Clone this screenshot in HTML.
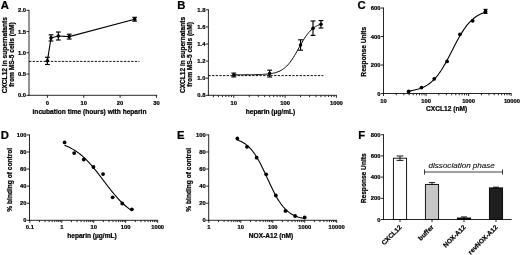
<!DOCTYPE html>
<html><head><meta charset="utf-8"><title>Figure</title>
<style>
html,body{margin:0;padding:0;background:#fff;}
body{width:520px;height:255px;overflow:hidden;}
svg{display:block;font-family:"Liberation Sans",sans-serif;fill:#000;}
text{stroke:#000;stroke-width:0.22px;}
text.ns{stroke:none;}
text.ns2{stroke:#111;stroke-width:0.12px;}
</style></head><body>
<svg width="520" height="255" viewBox="0 0 520 255">
<rect x="0" y="0" width="520" height="255" fill="#fff"/>
<text x="4.90" y="9.00" text-anchor="middle" font-size="11.3" font-weight="bold" font-style="normal">A</text>
<line x1="29.00" y1="95.72" x2="29.00" y2="9.87" stroke="#000" stroke-width="0.85"/>
<line x1="26.50" y1="95.30" x2="29.00" y2="95.30" stroke="#000" stroke-width="0.85"/>
<text x="26.00" y="97.45" text-anchor="end" font-size="5.8" font-weight="bold" font-style="normal">0.0</text>
<line x1="26.50" y1="74.05" x2="29.00" y2="74.05" stroke="#000" stroke-width="0.85"/>
<text x="26.00" y="76.20" text-anchor="end" font-size="5.8" font-weight="bold" font-style="normal">0.5</text>
<line x1="26.50" y1="52.80" x2="29.00" y2="52.80" stroke="#000" stroke-width="0.85"/>
<text x="26.00" y="54.95" text-anchor="end" font-size="5.8" font-weight="bold" font-style="normal">1.0</text>
<line x1="26.50" y1="31.55" x2="29.00" y2="31.55" stroke="#000" stroke-width="0.85"/>
<text x="26.00" y="33.70" text-anchor="end" font-size="5.8" font-weight="bold" font-style="normal">1.5</text>
<line x1="26.50" y1="10.30" x2="29.00" y2="10.30" stroke="#000" stroke-width="0.85"/>
<text x="26.00" y="12.45" text-anchor="end" font-size="5.8" font-weight="bold" font-style="normal">2.0</text>
<line x1="28.57" y1="95.30" x2="157.30" y2="95.30" stroke="#000" stroke-width="0.85"/>
<line x1="47.40" y1="95.30" x2="47.40" y2="97.80" stroke="#000" stroke-width="0.85"/>
<text x="47.40" y="104.80" text-anchor="middle" font-size="5.8" font-weight="bold" font-style="normal">0</text>
<line x1="83.75" y1="95.30" x2="83.75" y2="97.80" stroke="#000" stroke-width="0.85"/>
<text x="83.75" y="104.80" text-anchor="middle" font-size="5.8" font-weight="bold" font-style="normal">10</text>
<line x1="120.10" y1="95.30" x2="120.10" y2="97.80" stroke="#000" stroke-width="0.85"/>
<text x="120.10" y="104.80" text-anchor="middle" font-size="5.8" font-weight="bold" font-style="normal">20</text>
<line x1="156.45" y1="95.30" x2="156.45" y2="97.80" stroke="#000" stroke-width="0.85"/>
<text x="156.45" y="104.80" text-anchor="middle" font-size="5.8" font-weight="bold" font-style="normal">30</text>
<text x="89.50" y="114.30" text-anchor="middle" font-size="6.6" font-weight="bold" font-style="normal">incubation time (hours) with heparin</text>
<text x="7.50" y="55.20" text-anchor="middle" font-size="6.6" font-weight="bold" font-style="normal" transform="rotate(-90 7.50 55.20)">CXCL12 in supernatants</text>
<text x="14.30" y="54.60" text-anchor="middle" font-size="6.6" font-weight="bold" font-style="normal" transform="rotate(-90 14.30 54.60)">from MS-5 cells (nM)</text>
<line x1="29.00" y1="61.40" x2="139.40" y2="61.40" stroke="#000" stroke-width="0.95" stroke-dasharray="2.3 1.35"/>
<path d="M47.40,60.87 L51.03,37.92 L58.30,36.01 L69.21,36.61 L134.64,19.22" fill="none" stroke="#000" stroke-width="1.1" stroke-linejoin="round"/>
<line x1="47.40" y1="57.26" x2="47.40" y2="64.49" stroke="#000" stroke-width="1.15"/>
<line x1="45.00" y1="57.26" x2="49.80" y2="57.26" stroke="#000" stroke-width="1.15"/>
<line x1="45.00" y1="64.49" x2="49.80" y2="64.49" stroke="#000" stroke-width="1.15"/>
<circle cx="47.40" cy="60.87" r="1.8" fill="#000"/>
<line x1="51.03" y1="34.82" x2="51.03" y2="41.03" stroke="#000" stroke-width="1.15"/>
<line x1="48.63" y1="34.82" x2="53.43" y2="34.82" stroke="#000" stroke-width="1.15"/>
<line x1="48.63" y1="41.03" x2="53.43" y2="41.03" stroke="#000" stroke-width="1.15"/>
<circle cx="51.03" cy="37.92" r="1.8" fill="#000"/>
<line x1="58.30" y1="32.02" x2="58.30" y2="40.01" stroke="#000" stroke-width="1.15"/>
<line x1="55.91" y1="32.02" x2="60.70" y2="32.02" stroke="#000" stroke-width="1.15"/>
<line x1="55.91" y1="40.01" x2="60.70" y2="40.01" stroke="#000" stroke-width="1.15"/>
<circle cx="58.30" cy="36.01" r="1.8" fill="#000"/>
<line x1="69.21" y1="34.19" x2="69.21" y2="39.03" stroke="#000" stroke-width="1.15"/>
<line x1="66.81" y1="34.19" x2="71.61" y2="34.19" stroke="#000" stroke-width="1.15"/>
<line x1="66.81" y1="39.03" x2="71.61" y2="39.03" stroke="#000" stroke-width="1.15"/>
<circle cx="69.21" cy="36.61" r="1.8" fill="#000"/>
<line x1="134.64" y1="17.31" x2="134.64" y2="21.14" stroke="#000" stroke-width="1.15"/>
<line x1="132.24" y1="17.31" x2="137.04" y2="17.31" stroke="#000" stroke-width="1.15"/>
<line x1="132.24" y1="21.14" x2="137.04" y2="21.14" stroke="#000" stroke-width="1.15"/>
<circle cx="134.64" cy="19.22" r="1.8" fill="#000"/>
<text x="181.30" y="8.90" text-anchor="middle" font-size="11.3" font-weight="bold" font-style="normal">B</text>
<line x1="208.40" y1="95.72" x2="208.40" y2="9.37" stroke="#000" stroke-width="0.85"/>
<line x1="205.90" y1="95.30" x2="208.40" y2="95.30" stroke="#000" stroke-width="0.85"/>
<text x="205.40" y="97.45" text-anchor="end" font-size="5.8" font-weight="bold" font-style="normal">0.8</text>
<line x1="205.90" y1="78.20" x2="208.40" y2="78.20" stroke="#000" stroke-width="0.85"/>
<text x="205.40" y="80.35" text-anchor="end" font-size="5.8" font-weight="bold" font-style="normal">1.0</text>
<line x1="205.90" y1="61.10" x2="208.40" y2="61.10" stroke="#000" stroke-width="0.85"/>
<text x="205.40" y="63.25" text-anchor="end" font-size="5.8" font-weight="bold" font-style="normal">1.2</text>
<line x1="205.90" y1="44.00" x2="208.40" y2="44.00" stroke="#000" stroke-width="0.85"/>
<text x="205.40" y="46.15" text-anchor="end" font-size="5.8" font-weight="bold" font-style="normal">1.4</text>
<line x1="205.90" y1="26.90" x2="208.40" y2="26.90" stroke="#000" stroke-width="0.85"/>
<text x="205.40" y="29.05" text-anchor="end" font-size="5.8" font-weight="bold" font-style="normal">1.6</text>
<line x1="205.90" y1="9.80" x2="208.40" y2="9.80" stroke="#000" stroke-width="0.85"/>
<text x="205.40" y="11.95" text-anchor="end" font-size="5.8" font-weight="bold" font-style="normal">1.8</text>
<line x1="207.97" y1="95.30" x2="336.90" y2="95.30" stroke="#000" stroke-width="0.85"/>
<line x1="233.80" y1="95.30" x2="233.80" y2="97.80" stroke="#000" stroke-width="0.85"/>
<text x="233.80" y="104.60" text-anchor="middle" font-size="5.8" font-weight="bold" font-style="normal">10</text>
<line x1="285.10" y1="95.30" x2="285.10" y2="97.80" stroke="#000" stroke-width="0.85"/>
<text x="285.10" y="104.60" text-anchor="middle" font-size="5.8" font-weight="bold" font-style="normal">100</text>
<line x1="336.40" y1="95.30" x2="336.40" y2="97.80" stroke="#000" stroke-width="0.85"/>
<text x="336.40" y="104.60" text-anchor="middle" font-size="5.8" font-weight="bold" font-style="normal">1000</text>
<line x1="213.39" y1="95.30" x2="213.39" y2="97.10" stroke="#000" stroke-width="0.85"/>
<line x1="218.36" y1="95.30" x2="218.36" y2="97.10" stroke="#000" stroke-width="0.85"/>
<line x1="222.42" y1="95.30" x2="222.42" y2="97.10" stroke="#000" stroke-width="0.85"/>
<line x1="225.85" y1="95.30" x2="225.85" y2="97.10" stroke="#000" stroke-width="0.85"/>
<line x1="228.83" y1="95.30" x2="228.83" y2="97.10" stroke="#000" stroke-width="0.85"/>
<line x1="231.45" y1="95.30" x2="231.45" y2="97.10" stroke="#000" stroke-width="0.85"/>
<line x1="249.24" y1="95.30" x2="249.24" y2="97.10" stroke="#000" stroke-width="0.85"/>
<line x1="258.28" y1="95.30" x2="258.28" y2="97.10" stroke="#000" stroke-width="0.85"/>
<line x1="264.69" y1="95.30" x2="264.69" y2="97.10" stroke="#000" stroke-width="0.85"/>
<line x1="269.66" y1="95.30" x2="269.66" y2="97.10" stroke="#000" stroke-width="0.85"/>
<line x1="273.72" y1="95.30" x2="273.72" y2="97.10" stroke="#000" stroke-width="0.85"/>
<line x1="277.15" y1="95.30" x2="277.15" y2="97.10" stroke="#000" stroke-width="0.85"/>
<line x1="280.13" y1="95.30" x2="280.13" y2="97.10" stroke="#000" stroke-width="0.85"/>
<line x1="282.75" y1="95.30" x2="282.75" y2="97.10" stroke="#000" stroke-width="0.85"/>
<line x1="300.54" y1="95.30" x2="300.54" y2="97.10" stroke="#000" stroke-width="0.85"/>
<line x1="309.58" y1="95.30" x2="309.58" y2="97.10" stroke="#000" stroke-width="0.85"/>
<line x1="315.99" y1="95.30" x2="315.99" y2="97.10" stroke="#000" stroke-width="0.85"/>
<line x1="320.96" y1="95.30" x2="320.96" y2="97.10" stroke="#000" stroke-width="0.85"/>
<line x1="325.02" y1="95.30" x2="325.02" y2="97.10" stroke="#000" stroke-width="0.85"/>
<line x1="328.45" y1="95.30" x2="328.45" y2="97.10" stroke="#000" stroke-width="0.85"/>
<line x1="331.43" y1="95.30" x2="331.43" y2="97.10" stroke="#000" stroke-width="0.85"/>
<line x1="334.05" y1="95.30" x2="334.05" y2="97.10" stroke="#000" stroke-width="0.85"/>
<text x="270.50" y="114.30" text-anchor="middle" font-size="6.6" font-weight="bold" font-style="normal">heparin (µg/mL)</text>
<text x="184.50" y="55.00" text-anchor="middle" font-size="6.6" font-weight="bold" font-style="normal" transform="rotate(-90 184.50 55.00)">CXCL12 in supernatants</text>
<text x="191.70" y="54.40" text-anchor="middle" font-size="6.6" font-weight="bold" font-style="normal" transform="rotate(-90 191.70 54.40)">from MS-5 cells (nM)</text>
<line x1="208.40" y1="75.60" x2="323.40" y2="75.60" stroke="#000" stroke-width="0.95" stroke-dasharray="2.3 1.35"/>
<path d="M233.80,74.81 L234.90,74.81 L236.01,74.81 L237.11,74.81 L238.21,74.80 L239.32,74.80 L240.42,74.80 L241.52,74.80 L242.63,74.79 L243.73,74.79 L244.83,74.78 L245.94,74.78 L247.04,74.77 L248.14,74.76 L249.25,74.75 L250.35,74.74 L251.45,74.73 L252.56,74.72 L253.66,74.70 L254.76,74.68 L255.87,74.66 L256.97,74.63 L258.07,74.61 L259.17,74.57 L260.28,74.53 L261.38,74.49 L262.48,74.43 L263.59,74.37 L264.69,74.30 L265.79,74.22 L266.90,74.12 L268.00,74.01 L269.10,73.88 L270.21,73.73 L271.31,73.56 L272.41,73.36 L273.52,73.13 L274.62,72.87 L275.72,72.57 L276.83,72.23 L277.93,71.83 L279.03,71.38 L280.14,70.86 L281.24,70.28 L282.34,69.62 L283.45,68.87 L284.55,68.03 L285.65,67.09 L286.76,66.05 L287.86,64.90 L288.96,63.63 L290.07,62.25 L291.17,60.75 L292.27,59.15 L293.38,57.45 L294.48,55.65 L295.58,53.78 L296.69,51.85 L297.79,49.88 L298.89,47.89 L300.00,45.91 L301.10,43.95 L302.20,42.04 L303.31,40.20 L304.41,38.44 L305.51,36.77 L306.61,35.21 L307.72,33.76 L308.82,32.42 L309.92,31.20 L311.03,30.09 L312.13,29.09 L313.23,28.19 L314.34,27.38 L315.44,26.67 L316.54,26.04 L317.65,25.48 L318.75,24.99 L319.85,24.56 L320.96,24.19" fill="none" stroke="#000" stroke-width="1.0" stroke-linejoin="round"/>
<line x1="233.80" y1="73.10" x2="233.80" y2="76.90" stroke="#000" stroke-width="1.15"/>
<line x1="231.40" y1="73.10" x2="236.20" y2="73.10" stroke="#000" stroke-width="1.15"/>
<line x1="231.40" y1="76.90" x2="236.20" y2="76.90" stroke="#000" stroke-width="1.15"/>
<circle cx="233.80" cy="75.00" r="1.8" fill="#000"/>
<line x1="269.66" y1="70.20" x2="269.66" y2="77.00" stroke="#000" stroke-width="1.15"/>
<line x1="267.26" y1="70.20" x2="272.06" y2="70.20" stroke="#000" stroke-width="1.15"/>
<line x1="267.26" y1="77.00" x2="272.06" y2="77.00" stroke="#000" stroke-width="1.15"/>
<circle cx="269.66" cy="73.60" r="1.8" fill="#000"/>
<line x1="300.54" y1="39.80" x2="300.54" y2="50.20" stroke="#000" stroke-width="1.15"/>
<line x1="298.14" y1="39.80" x2="302.94" y2="39.80" stroke="#000" stroke-width="1.15"/>
<line x1="298.14" y1="50.20" x2="302.94" y2="50.20" stroke="#000" stroke-width="1.15"/>
<circle cx="300.54" cy="45.00" r="1.8" fill="#000"/>
<line x1="313.01" y1="21.00" x2="313.01" y2="35.40" stroke="#000" stroke-width="1.15"/>
<line x1="310.61" y1="21.00" x2="315.41" y2="21.00" stroke="#000" stroke-width="1.15"/>
<line x1="310.61" y1="35.40" x2="315.41" y2="35.40" stroke="#000" stroke-width="1.15"/>
<circle cx="313.01" cy="28.20" r="1.8" fill="#000"/>
<line x1="320.96" y1="20.60" x2="320.96" y2="28.00" stroke="#000" stroke-width="1.15"/>
<line x1="318.56" y1="20.60" x2="323.36" y2="20.60" stroke="#000" stroke-width="1.15"/>
<line x1="318.56" y1="28.00" x2="323.36" y2="28.00" stroke="#000" stroke-width="1.15"/>
<circle cx="320.96" cy="24.30" r="1.8" fill="#000"/>
<text x="361.50" y="9.00" text-anchor="middle" font-size="11.3" font-weight="bold" font-style="normal">C</text>
<line x1="383.50" y1="93.92" x2="383.50" y2="7.58" stroke="#000" stroke-width="0.85"/>
<line x1="381.00" y1="93.50" x2="383.50" y2="93.50" stroke="#000" stroke-width="0.85"/>
<text x="380.50" y="95.65" text-anchor="end" font-size="5.8" font-weight="bold" font-style="normal">0</text>
<line x1="381.00" y1="65.00" x2="383.50" y2="65.00" stroke="#000" stroke-width="0.85"/>
<text x="380.50" y="67.15" text-anchor="end" font-size="5.8" font-weight="bold" font-style="normal">200</text>
<line x1="381.00" y1="36.50" x2="383.50" y2="36.50" stroke="#000" stroke-width="0.85"/>
<text x="380.50" y="38.65" text-anchor="end" font-size="5.8" font-weight="bold" font-style="normal">400</text>
<line x1="381.00" y1="8.00" x2="383.50" y2="8.00" stroke="#000" stroke-width="0.85"/>
<text x="380.50" y="10.15" text-anchor="end" font-size="5.8" font-weight="bold" font-style="normal">600</text>
<line x1="383.07" y1="93.50" x2="511.50" y2="93.50" stroke="#000" stroke-width="0.85"/>
<line x1="383.50" y1="93.50" x2="383.50" y2="96.00" stroke="#000" stroke-width="0.85"/>
<text x="383.50" y="102.70" text-anchor="middle" font-size="5.8" font-weight="bold" font-style="normal">10</text>
<line x1="426.05" y1="93.50" x2="426.05" y2="96.00" stroke="#000" stroke-width="0.85"/>
<text x="426.05" y="102.70" text-anchor="middle" font-size="5.8" font-weight="bold" font-style="normal">100</text>
<line x1="468.60" y1="93.50" x2="468.60" y2="96.00" stroke="#000" stroke-width="0.85"/>
<text x="468.60" y="102.70" text-anchor="middle" font-size="5.8" font-weight="bold" font-style="normal">1000</text>
<line x1="511.15" y1="93.50" x2="511.15" y2="96.00" stroke="#000" stroke-width="0.85"/>
<text x="511.95" y="102.70" text-anchor="middle" font-size="5.8" font-weight="bold" font-style="normal">10000</text>
<line x1="396.31" y1="93.50" x2="396.31" y2="95.30" stroke="#000" stroke-width="0.85"/>
<line x1="403.80" y1="93.50" x2="403.80" y2="95.30" stroke="#000" stroke-width="0.85"/>
<line x1="409.12" y1="93.50" x2="409.12" y2="95.30" stroke="#000" stroke-width="0.85"/>
<line x1="413.24" y1="93.50" x2="413.24" y2="95.30" stroke="#000" stroke-width="0.85"/>
<line x1="416.61" y1="93.50" x2="416.61" y2="95.30" stroke="#000" stroke-width="0.85"/>
<line x1="419.46" y1="93.50" x2="419.46" y2="95.30" stroke="#000" stroke-width="0.85"/>
<line x1="421.93" y1="93.50" x2="421.93" y2="95.30" stroke="#000" stroke-width="0.85"/>
<line x1="424.10" y1="93.50" x2="424.10" y2="95.30" stroke="#000" stroke-width="0.85"/>
<line x1="438.86" y1="93.50" x2="438.86" y2="95.30" stroke="#000" stroke-width="0.85"/>
<line x1="446.35" y1="93.50" x2="446.35" y2="95.30" stroke="#000" stroke-width="0.85"/>
<line x1="451.67" y1="93.50" x2="451.67" y2="95.30" stroke="#000" stroke-width="0.85"/>
<line x1="455.79" y1="93.50" x2="455.79" y2="95.30" stroke="#000" stroke-width="0.85"/>
<line x1="459.16" y1="93.50" x2="459.16" y2="95.30" stroke="#000" stroke-width="0.85"/>
<line x1="462.01" y1="93.50" x2="462.01" y2="95.30" stroke="#000" stroke-width="0.85"/>
<line x1="464.48" y1="93.50" x2="464.48" y2="95.30" stroke="#000" stroke-width="0.85"/>
<line x1="466.65" y1="93.50" x2="466.65" y2="95.30" stroke="#000" stroke-width="0.85"/>
<line x1="481.41" y1="93.50" x2="481.41" y2="95.30" stroke="#000" stroke-width="0.85"/>
<line x1="488.90" y1="93.50" x2="488.90" y2="95.30" stroke="#000" stroke-width="0.85"/>
<line x1="494.22" y1="93.50" x2="494.22" y2="95.30" stroke="#000" stroke-width="0.85"/>
<line x1="498.34" y1="93.50" x2="498.34" y2="95.30" stroke="#000" stroke-width="0.85"/>
<line x1="501.71" y1="93.50" x2="501.71" y2="95.30" stroke="#000" stroke-width="0.85"/>
<line x1="504.56" y1="93.50" x2="504.56" y2="95.30" stroke="#000" stroke-width="0.85"/>
<line x1="507.03" y1="93.50" x2="507.03" y2="95.30" stroke="#000" stroke-width="0.85"/>
<line x1="509.20" y1="93.50" x2="509.20" y2="95.30" stroke="#000" stroke-width="0.85"/>
<text x="446.60" y="111.20" text-anchor="middle" font-size="6.6" font-weight="bold" font-style="normal">CXCL12 (nM)</text>
<text x="365.90" y="51.70" text-anchor="middle" font-size="6.6" font-weight="bold" font-style="normal" transform="rotate(-90 365.90 51.70)">Response Units</text>
<path d="M408.65,91.03 L409.62,90.90 L410.60,90.76 L411.57,90.61 L412.54,90.44 L413.52,90.25 L414.49,90.05 L415.46,89.83 L416.44,89.59 L417.41,89.33 L418.38,89.04 L419.35,88.73 L420.33,88.40 L421.30,88.03 L422.27,87.64 L423.25,87.21 L424.22,86.74 L425.19,86.24 L426.17,85.69 L427.14,85.11 L428.11,84.47 L429.09,83.79 L430.06,83.06 L431.03,82.27 L432.01,81.42 L432.98,80.52 L433.95,79.56 L434.93,78.53 L435.90,77.44 L436.87,76.28 L437.85,75.05 L438.82,73.76 L439.79,72.40 L440.77,70.98 L441.74,69.49 L442.71,67.93 L443.68,66.32 L444.66,64.65 L445.63,62.93 L446.60,61.16 L447.58,59.34 L448.55,57.50 L449.52,55.62 L450.50,53.73 L451.47,51.82 L452.44,49.91 L453.42,47.99 L454.39,46.09 L455.36,44.21 L456.34,42.35 L457.31,40.53 L458.28,38.74 L459.26,37.00 L460.23,35.32 L461.20,33.68 L462.18,32.11 L463.15,30.59 L464.12,29.14 L465.10,27.76 L466.07,26.45 L467.04,25.20 L468.01,24.02 L468.99,22.90 L469.96,21.85 L470.93,20.86 L471.91,19.94 L472.88,19.08 L473.85,18.27 L474.83,17.52 L475.80,16.81 L476.77,16.16 L477.75,15.56 L478.72,15.00 L479.69,14.48 L480.67,14.00 L481.64,13.56 L482.61,13.16 L483.59,12.78 L484.56,12.43 L485.53,12.11" fill="none" stroke="#000" stroke-width="1.1" stroke-linejoin="round"/>
<circle cx="408.65" cy="91.40" r="1.9" fill="#000"/>
<circle cx="421.46" cy="87.60" r="1.9" fill="#000"/>
<circle cx="434.27" cy="78.80" r="1.9" fill="#000"/>
<circle cx="447.08" cy="61.40" r="1.9" fill="#000"/>
<circle cx="459.91" cy="34.30" r="1.9" fill="#000"/>
<circle cx="472.72" cy="20.80" r="1.9" fill="#000"/>
<circle cx="485.53" cy="11.40" r="1.9" fill="#000"/>
<line x1="485.53" y1="9.40" x2="485.53" y2="13.40" stroke="#000" stroke-width="1.15"/>
<line x1="483.53" y1="9.40" x2="487.53" y2="9.40" stroke="#000" stroke-width="1.15"/>
<line x1="483.53" y1="13.40" x2="487.53" y2="13.40" stroke="#000" stroke-width="1.15"/>
<text x="4.80" y="138.80" text-anchor="middle" font-size="11.3" font-weight="bold" font-style="normal">D</text>
<line x1="29.50" y1="220.73" x2="29.50" y2="134.48" stroke="#000" stroke-width="0.85"/>
<line x1="27.00" y1="220.30" x2="29.50" y2="220.30" stroke="#000" stroke-width="0.85"/>
<text x="26.50" y="222.45" text-anchor="end" font-size="5.8" font-weight="bold" font-style="normal">0</text>
<line x1="27.00" y1="203.22" x2="29.50" y2="203.22" stroke="#000" stroke-width="0.85"/>
<text x="26.50" y="205.37" text-anchor="end" font-size="5.8" font-weight="bold" font-style="normal">20</text>
<line x1="27.00" y1="186.14" x2="29.50" y2="186.14" stroke="#000" stroke-width="0.85"/>
<text x="26.50" y="188.29" text-anchor="end" font-size="5.8" font-weight="bold" font-style="normal">40</text>
<line x1="27.00" y1="169.06" x2="29.50" y2="169.06" stroke="#000" stroke-width="0.85"/>
<text x="26.50" y="171.21" text-anchor="end" font-size="5.8" font-weight="bold" font-style="normal">60</text>
<line x1="27.00" y1="151.98" x2="29.50" y2="151.98" stroke="#000" stroke-width="0.85"/>
<text x="26.50" y="154.13" text-anchor="end" font-size="5.8" font-weight="bold" font-style="normal">80</text>
<line x1="27.00" y1="134.90" x2="29.50" y2="134.90" stroke="#000" stroke-width="0.85"/>
<text x="26.50" y="137.05" text-anchor="end" font-size="5.8" font-weight="bold" font-style="normal">100</text>
<line x1="29.07" y1="220.30" x2="158.00" y2="220.30" stroke="#000" stroke-width="0.85"/>
<line x1="29.85" y1="220.30" x2="29.85" y2="222.80" stroke="#000" stroke-width="0.85"/>
<text x="29.85" y="229.00" text-anchor="middle" font-size="5.8" font-weight="bold" font-style="normal">0.1</text>
<line x1="61.80" y1="220.30" x2="61.80" y2="222.80" stroke="#000" stroke-width="0.85"/>
<text x="61.80" y="229.00" text-anchor="middle" font-size="5.8" font-weight="bold" font-style="normal">1</text>
<line x1="93.75" y1="220.30" x2="93.75" y2="222.80" stroke="#000" stroke-width="0.85"/>
<text x="93.75" y="229.00" text-anchor="middle" font-size="5.8" font-weight="bold" font-style="normal">10</text>
<line x1="125.70" y1="220.30" x2="125.70" y2="222.80" stroke="#000" stroke-width="0.85"/>
<text x="125.70" y="229.00" text-anchor="middle" font-size="5.8" font-weight="bold" font-style="normal">100</text>
<line x1="157.65" y1="220.30" x2="157.65" y2="222.80" stroke="#000" stroke-width="0.85"/>
<text x="157.65" y="229.00" text-anchor="middle" font-size="5.8" font-weight="bold" font-style="normal">1000</text>
<line x1="39.47" y1="220.30" x2="39.47" y2="222.10" stroke="#000" stroke-width="0.85"/>
<line x1="45.09" y1="220.30" x2="45.09" y2="222.10" stroke="#000" stroke-width="0.85"/>
<line x1="49.09" y1="220.30" x2="49.09" y2="222.10" stroke="#000" stroke-width="0.85"/>
<line x1="52.18" y1="220.30" x2="52.18" y2="222.10" stroke="#000" stroke-width="0.85"/>
<line x1="54.71" y1="220.30" x2="54.71" y2="222.10" stroke="#000" stroke-width="0.85"/>
<line x1="56.85" y1="220.30" x2="56.85" y2="222.10" stroke="#000" stroke-width="0.85"/>
<line x1="58.70" y1="220.30" x2="58.70" y2="222.10" stroke="#000" stroke-width="0.85"/>
<line x1="60.34" y1="220.30" x2="60.34" y2="222.10" stroke="#000" stroke-width="0.85"/>
<line x1="71.42" y1="220.30" x2="71.42" y2="222.10" stroke="#000" stroke-width="0.85"/>
<line x1="77.04" y1="220.30" x2="77.04" y2="222.10" stroke="#000" stroke-width="0.85"/>
<line x1="81.04" y1="220.30" x2="81.04" y2="222.10" stroke="#000" stroke-width="0.85"/>
<line x1="84.13" y1="220.30" x2="84.13" y2="222.10" stroke="#000" stroke-width="0.85"/>
<line x1="86.66" y1="220.30" x2="86.66" y2="222.10" stroke="#000" stroke-width="0.85"/>
<line x1="88.80" y1="220.30" x2="88.80" y2="222.10" stroke="#000" stroke-width="0.85"/>
<line x1="90.65" y1="220.30" x2="90.65" y2="222.10" stroke="#000" stroke-width="0.85"/>
<line x1="92.29" y1="220.30" x2="92.29" y2="222.10" stroke="#000" stroke-width="0.85"/>
<line x1="103.37" y1="220.30" x2="103.37" y2="222.10" stroke="#000" stroke-width="0.85"/>
<line x1="108.99" y1="220.30" x2="108.99" y2="222.10" stroke="#000" stroke-width="0.85"/>
<line x1="112.99" y1="220.30" x2="112.99" y2="222.10" stroke="#000" stroke-width="0.85"/>
<line x1="116.08" y1="220.30" x2="116.08" y2="222.10" stroke="#000" stroke-width="0.85"/>
<line x1="118.61" y1="220.30" x2="118.61" y2="222.10" stroke="#000" stroke-width="0.85"/>
<line x1="120.75" y1="220.30" x2="120.75" y2="222.10" stroke="#000" stroke-width="0.85"/>
<line x1="122.60" y1="220.30" x2="122.60" y2="222.10" stroke="#000" stroke-width="0.85"/>
<line x1="124.24" y1="220.30" x2="124.24" y2="222.10" stroke="#000" stroke-width="0.85"/>
<line x1="135.32" y1="220.30" x2="135.32" y2="222.10" stroke="#000" stroke-width="0.85"/>
<line x1="140.94" y1="220.30" x2="140.94" y2="222.10" stroke="#000" stroke-width="0.85"/>
<line x1="144.94" y1="220.30" x2="144.94" y2="222.10" stroke="#000" stroke-width="0.85"/>
<line x1="148.03" y1="220.30" x2="148.03" y2="222.10" stroke="#000" stroke-width="0.85"/>
<line x1="150.56" y1="220.30" x2="150.56" y2="222.10" stroke="#000" stroke-width="0.85"/>
<line x1="152.70" y1="220.30" x2="152.70" y2="222.10" stroke="#000" stroke-width="0.85"/>
<line x1="154.55" y1="220.30" x2="154.55" y2="222.10" stroke="#000" stroke-width="0.85"/>
<line x1="156.19" y1="220.30" x2="156.19" y2="222.10" stroke="#000" stroke-width="0.85"/>
<text x="92.00" y="238.20" text-anchor="middle" font-size="6.6" font-weight="bold" font-style="normal">heparin (µg/mL)</text>
<text x="12.30" y="179.80" text-anchor="middle" font-size="6.6" font-weight="bold" font-style="normal" transform="rotate(-90 12.30 179.80)">% binding of control</text>
<path d="M64.56,145.29 L65.41,145.62 L66.26,145.97 L67.12,146.33 L67.97,146.71 L68.82,147.11 L69.67,147.53 L70.52,147.96 L71.38,148.41 L72.23,148.88 L73.08,149.37 L73.93,149.88 L74.78,150.41 L75.64,150.97 L76.49,151.54 L77.34,152.13 L78.19,152.75 L79.04,153.39 L79.90,154.05 L80.75,154.74 L81.60,155.45 L82.45,156.18 L83.30,156.94 L84.16,157.71 L85.01,158.52 L85.86,159.34 L86.71,160.19 L87.56,161.06 L88.42,161.95 L89.27,162.87 L90.12,163.80 L90.97,164.76 L91.82,165.74 L92.68,166.73 L93.53,167.75 L94.38,168.78 L95.23,169.82 L96.08,170.88 L96.94,171.96 L97.79,173.04 L98.64,174.14 L99.49,175.25 L100.34,176.36 L101.20,177.48 L102.05,178.61 L102.90,179.74 L103.75,180.87 L104.61,182.00 L105.46,183.13 L106.31,184.25 L107.16,185.37 L108.01,186.49 L108.87,187.59 L109.72,188.69 L110.57,189.77 L111.42,190.84 L112.27,191.90 L113.13,192.95 L113.98,193.98 L114.83,194.99 L115.68,195.98 L116.53,196.95 L117.39,197.91 L118.24,198.84 L119.09,199.75 L119.94,200.64 L120.79,201.51 L121.65,202.35 L122.50,203.18 L123.35,203.97 L124.20,204.75 L125.05,205.50 L125.91,206.23 L126.76,206.94 L127.61,207.62 L128.46,208.28 L129.31,208.92 L130.17,209.53 L131.02,210.12 L131.87,210.69" fill="none" stroke="#000" stroke-width="1.1" stroke-linejoin="round"/>
<circle cx="64.56" cy="142.40" r="1.9" fill="#000"/>
<circle cx="74.18" cy="153.10" r="1.9" fill="#000"/>
<circle cx="83.80" cy="159.50" r="1.9" fill="#000"/>
<circle cx="93.43" cy="167.00" r="1.9" fill="#000"/>
<circle cx="103.02" cy="174.10" r="1.9" fill="#000"/>
<circle cx="112.63" cy="197.30" r="1.9" fill="#000"/>
<circle cx="122.25" cy="203.50" r="1.9" fill="#000"/>
<circle cx="131.87" cy="209.30" r="1.9" fill="#000"/>
<text x="180.70" y="138.80" text-anchor="middle" font-size="11.3" font-weight="bold" font-style="normal">E</text>
<line x1="208.70" y1="220.73" x2="208.70" y2="134.48" stroke="#000" stroke-width="0.85"/>
<line x1="206.20" y1="220.30" x2="208.70" y2="220.30" stroke="#000" stroke-width="0.85"/>
<text x="205.70" y="222.45" text-anchor="end" font-size="5.8" font-weight="bold" font-style="normal">0</text>
<line x1="206.20" y1="203.22" x2="208.70" y2="203.22" stroke="#000" stroke-width="0.85"/>
<text x="205.70" y="205.37" text-anchor="end" font-size="5.8" font-weight="bold" font-style="normal">20</text>
<line x1="206.20" y1="186.14" x2="208.70" y2="186.14" stroke="#000" stroke-width="0.85"/>
<text x="205.70" y="188.29" text-anchor="end" font-size="5.8" font-weight="bold" font-style="normal">40</text>
<line x1="206.20" y1="169.06" x2="208.70" y2="169.06" stroke="#000" stroke-width="0.85"/>
<text x="205.70" y="171.21" text-anchor="end" font-size="5.8" font-weight="bold" font-style="normal">60</text>
<line x1="206.20" y1="151.98" x2="208.70" y2="151.98" stroke="#000" stroke-width="0.85"/>
<text x="205.70" y="154.13" text-anchor="end" font-size="5.8" font-weight="bold" font-style="normal">80</text>
<line x1="206.20" y1="134.90" x2="208.70" y2="134.90" stroke="#000" stroke-width="0.85"/>
<text x="205.70" y="137.05" text-anchor="end" font-size="5.8" font-weight="bold" font-style="normal">100</text>
<line x1="208.27" y1="220.30" x2="337.00" y2="220.30" stroke="#000" stroke-width="0.85"/>
<line x1="208.85" y1="220.30" x2="208.85" y2="222.80" stroke="#000" stroke-width="0.85"/>
<text x="208.85" y="229.00" text-anchor="middle" font-size="5.8" font-weight="bold" font-style="normal">1</text>
<line x1="240.80" y1="220.30" x2="240.80" y2="222.80" stroke="#000" stroke-width="0.85"/>
<text x="240.80" y="229.00" text-anchor="middle" font-size="5.8" font-weight="bold" font-style="normal">10</text>
<line x1="272.75" y1="220.30" x2="272.75" y2="222.80" stroke="#000" stroke-width="0.85"/>
<text x="272.75" y="229.00" text-anchor="middle" font-size="5.8" font-weight="bold" font-style="normal">100</text>
<line x1="304.70" y1="220.30" x2="304.70" y2="222.80" stroke="#000" stroke-width="0.85"/>
<text x="304.70" y="229.00" text-anchor="middle" font-size="5.8" font-weight="bold" font-style="normal">1000</text>
<line x1="336.65" y1="220.30" x2="336.65" y2="222.80" stroke="#000" stroke-width="0.85"/>
<text x="336.65" y="229.00" text-anchor="middle" font-size="5.8" font-weight="bold" font-style="normal">10000</text>
<line x1="218.47" y1="220.30" x2="218.47" y2="222.10" stroke="#000" stroke-width="0.85"/>
<line x1="224.09" y1="220.30" x2="224.09" y2="222.10" stroke="#000" stroke-width="0.85"/>
<line x1="228.09" y1="220.30" x2="228.09" y2="222.10" stroke="#000" stroke-width="0.85"/>
<line x1="231.18" y1="220.30" x2="231.18" y2="222.10" stroke="#000" stroke-width="0.85"/>
<line x1="233.71" y1="220.30" x2="233.71" y2="222.10" stroke="#000" stroke-width="0.85"/>
<line x1="235.85" y1="220.30" x2="235.85" y2="222.10" stroke="#000" stroke-width="0.85"/>
<line x1="237.70" y1="220.30" x2="237.70" y2="222.10" stroke="#000" stroke-width="0.85"/>
<line x1="239.34" y1="220.30" x2="239.34" y2="222.10" stroke="#000" stroke-width="0.85"/>
<line x1="250.42" y1="220.30" x2="250.42" y2="222.10" stroke="#000" stroke-width="0.85"/>
<line x1="256.04" y1="220.30" x2="256.04" y2="222.10" stroke="#000" stroke-width="0.85"/>
<line x1="260.04" y1="220.30" x2="260.04" y2="222.10" stroke="#000" stroke-width="0.85"/>
<line x1="263.13" y1="220.30" x2="263.13" y2="222.10" stroke="#000" stroke-width="0.85"/>
<line x1="265.66" y1="220.30" x2="265.66" y2="222.10" stroke="#000" stroke-width="0.85"/>
<line x1="267.80" y1="220.30" x2="267.80" y2="222.10" stroke="#000" stroke-width="0.85"/>
<line x1="269.65" y1="220.30" x2="269.65" y2="222.10" stroke="#000" stroke-width="0.85"/>
<line x1="271.29" y1="220.30" x2="271.29" y2="222.10" stroke="#000" stroke-width="0.85"/>
<line x1="282.37" y1="220.30" x2="282.37" y2="222.10" stroke="#000" stroke-width="0.85"/>
<line x1="287.99" y1="220.30" x2="287.99" y2="222.10" stroke="#000" stroke-width="0.85"/>
<line x1="291.99" y1="220.30" x2="291.99" y2="222.10" stroke="#000" stroke-width="0.85"/>
<line x1="295.08" y1="220.30" x2="295.08" y2="222.10" stroke="#000" stroke-width="0.85"/>
<line x1="297.61" y1="220.30" x2="297.61" y2="222.10" stroke="#000" stroke-width="0.85"/>
<line x1="299.75" y1="220.30" x2="299.75" y2="222.10" stroke="#000" stroke-width="0.85"/>
<line x1="301.60" y1="220.30" x2="301.60" y2="222.10" stroke="#000" stroke-width="0.85"/>
<line x1="303.24" y1="220.30" x2="303.24" y2="222.10" stroke="#000" stroke-width="0.85"/>
<line x1="314.32" y1="220.30" x2="314.32" y2="222.10" stroke="#000" stroke-width="0.85"/>
<line x1="319.94" y1="220.30" x2="319.94" y2="222.10" stroke="#000" stroke-width="0.85"/>
<line x1="323.94" y1="220.30" x2="323.94" y2="222.10" stroke="#000" stroke-width="0.85"/>
<line x1="327.03" y1="220.30" x2="327.03" y2="222.10" stroke="#000" stroke-width="0.85"/>
<line x1="329.56" y1="220.30" x2="329.56" y2="222.10" stroke="#000" stroke-width="0.85"/>
<line x1="331.70" y1="220.30" x2="331.70" y2="222.10" stroke="#000" stroke-width="0.85"/>
<line x1="333.55" y1="220.30" x2="333.55" y2="222.10" stroke="#000" stroke-width="0.85"/>
<line x1="335.19" y1="220.30" x2="335.19" y2="222.10" stroke="#000" stroke-width="0.85"/>
<text x="271.00" y="238.20" text-anchor="middle" font-size="6.6" font-weight="bold" font-style="normal">NOX-A12 (nM)</text>
<text x="191.20" y="179.80" text-anchor="middle" font-size="6.6" font-weight="bold" font-style="normal" transform="rotate(-90 191.20 179.80)">% binding of control</text>
<path d="M237.35,139.89 L238.20,140.20 L239.06,140.54 L239.91,140.90 L240.76,141.29 L241.61,141.71 L242.47,142.17 L243.32,142.67 L244.17,143.20 L245.02,143.78 L245.88,144.40 L246.73,145.07 L247.58,145.78 L248.43,146.55 L249.29,147.37 L250.14,148.25 L250.99,149.19 L251.84,150.18 L252.70,151.24 L253.55,152.36 L254.40,153.54 L255.25,154.79 L256.11,156.10 L256.96,157.47 L257.81,158.91 L258.66,160.41 L259.52,161.96 L260.37,163.58 L261.22,165.24 L262.07,166.95 L262.93,168.70 L263.78,170.49 L264.63,172.31 L265.48,174.15 L266.34,176.00 L267.19,177.87 L268.04,179.74 L268.89,181.60 L269.75,183.46 L270.60,185.29 L271.45,187.09 L272.30,188.86 L273.16,190.59 L274.01,192.28 L274.86,193.91 L275.71,195.50 L276.57,197.02 L277.42,198.49 L278.27,199.89 L279.12,201.24 L279.98,202.52 L280.83,203.73 L281.68,204.88 L282.53,205.97 L283.39,206.99 L284.24,207.95 L285.09,208.86 L285.94,209.71 L286.80,210.50 L287.65,211.24 L288.50,211.93 L289.35,212.58 L290.21,213.17 L291.06,213.73 L291.91,214.24 L292.76,214.72 L293.62,215.16 L294.47,215.57 L295.32,215.94 L296.17,216.29 L297.03,216.61 L297.88,216.91 L298.73,217.18 L299.58,217.43 L300.44,217.66 L301.29,217.87 L302.14,218.07 L302.99,218.25 L303.85,218.41 L304.70,218.56" fill="none" stroke="#000" stroke-width="1.1" stroke-linejoin="round"/>
<circle cx="237.35" cy="138.50" r="1.9" fill="#000"/>
<circle cx="246.97" cy="146.80" r="1.9" fill="#000"/>
<circle cx="256.61" cy="157.70" r="1.9" fill="#000"/>
<circle cx="266.23" cy="174.30" r="1.9" fill="#000"/>
<circle cx="275.85" cy="195.50" r="1.9" fill="#000"/>
<circle cx="285.46" cy="210.90" r="1.9" fill="#000"/>
<circle cx="295.08" cy="216.00" r="1.9" fill="#000"/>
<circle cx="304.70" cy="217.50" r="1.9" fill="#000"/>
<text x="361.80" y="138.80" text-anchor="middle" font-size="11.3" font-weight="bold" font-style="normal">F</text>
<line x1="383.50" y1="219.93" x2="383.50" y2="134.27" stroke="#000" stroke-width="0.85"/>
<line x1="381.00" y1="219.50" x2="383.50" y2="219.50" stroke="#000" stroke-width="0.85"/>
<text x="380.50" y="221.65" text-anchor="end" font-size="5.8" font-weight="bold" font-style="normal">0</text>
<line x1="381.00" y1="198.30" x2="383.50" y2="198.30" stroke="#000" stroke-width="0.85"/>
<text x="380.50" y="200.45" text-anchor="end" font-size="5.8" font-weight="bold" font-style="normal">200</text>
<line x1="381.00" y1="177.10" x2="383.50" y2="177.10" stroke="#000" stroke-width="0.85"/>
<text x="380.50" y="179.25" text-anchor="end" font-size="5.8" font-weight="bold" font-style="normal">400</text>
<line x1="381.00" y1="155.90" x2="383.50" y2="155.90" stroke="#000" stroke-width="0.85"/>
<text x="380.50" y="158.05" text-anchor="end" font-size="5.8" font-weight="bold" font-style="normal">600</text>
<line x1="381.00" y1="134.70" x2="383.50" y2="134.70" stroke="#000" stroke-width="0.85"/>
<text x="380.50" y="136.85" text-anchor="end" font-size="5.8" font-weight="bold" font-style="normal">800</text>
<line x1="383.07" y1="219.50" x2="511.60" y2="219.50" stroke="#000" stroke-width="0.85"/>
<text x="366.30" y="178.30" text-anchor="middle" font-size="6.6" font-weight="bold" font-style="normal" transform="rotate(-90 366.30 178.30)">Response Units</text>
<line x1="400.00" y1="156.00" x2="400.00" y2="160.40" stroke="#000" stroke-width="0.9"/>
<line x1="396.60" y1="156.00" x2="403.40" y2="156.00" stroke="#000" stroke-width="0.9"/>
<line x1="396.60" y1="160.40" x2="403.40" y2="160.40" stroke="#000" stroke-width="0.9"/>
<rect x="393.40" y="158.20" width="13.2" height="61.30" fill="#fff" stroke="#000" stroke-width="0.9"/>
<line x1="396.60" y1="160.40" x2="403.40" y2="160.40" stroke="#000" stroke-width="0.9"/>
<line x1="400.00" y1="158.20" x2="400.00" y2="160.40" stroke="#000" stroke-width="0.9"/>
<line x1="400.00" y1="219.50" x2="400.00" y2="222.00" stroke="#000" stroke-width="0.85"/>
<text x="402.10" y="227.70" text-anchor="end" font-size="6.6" font-weight="bold" font-style="normal" transform="rotate(-45 402.10 227.70)">CXCL12</text>
<line x1="432.00" y1="182.60" x2="432.00" y2="186.40" stroke="#000" stroke-width="0.9"/>
<line x1="429.00" y1="182.60" x2="435.00" y2="182.60" stroke="#000" stroke-width="0.9"/>
<line x1="429.00" y1="186.40" x2="435.00" y2="186.40" stroke="#000" stroke-width="0.9"/>
<rect x="425.40" y="184.50" width="13.2" height="35.00" fill="#c6c6c6" stroke="#000" stroke-width="0.9"/>
<line x1="432.00" y1="219.50" x2="432.00" y2="222.00" stroke="#000" stroke-width="0.85"/>
<text x="434.10" y="227.70" text-anchor="end" font-size="6.6" font-weight="bold" font-style="normal" transform="rotate(-45 434.10 227.70)">buffer</text>
<line x1="464.00" y1="216.90" x2="464.00" y2="219.10" stroke="#000" stroke-width="0.9"/>
<line x1="461.00" y1="216.90" x2="467.00" y2="216.90" stroke="#000" stroke-width="0.9"/>
<line x1="461.00" y1="219.10" x2="467.00" y2="219.10" stroke="#000" stroke-width="0.9"/>
<rect x="457.40" y="218.00" width="13.2" height="1.50" fill="#111" stroke="#000" stroke-width="0.9"/>
<line x1="464.00" y1="219.50" x2="464.00" y2="222.00" stroke="#000" stroke-width="0.85"/>
<text x="466.10" y="227.70" text-anchor="end" font-size="6.6" font-weight="bold" font-style="normal" transform="rotate(-45 466.10 227.70)">NOX-A12</text>
<line x1="496.00" y1="187.20" x2="496.00" y2="188.60" stroke="#000" stroke-width="0.9"/>
<line x1="493.00" y1="187.20" x2="499.00" y2="187.20" stroke="#000" stroke-width="0.9"/>
<line x1="493.00" y1="188.60" x2="499.00" y2="188.60" stroke="#000" stroke-width="0.9"/>
<rect x="489.40" y="187.90" width="13.2" height="31.60" fill="#1e1e1e" stroke="#000" stroke-width="0.9"/>
<line x1="496.00" y1="219.50" x2="496.00" y2="222.00" stroke="#000" stroke-width="0.85"/>
<text x="498.10" y="227.70" text-anchor="end" font-size="6.6" font-weight="bold" font-style="normal" transform="rotate(-45 498.10 227.70)">revNOX-A12</text>
<text x="461.70" y="167.80" text-anchor="middle" font-size="8.05" font-weight="normal" font-style="italic" class="ns2" fill="#111">dissociation phase</text>
<line x1="424.50" y1="172.00" x2="502.50" y2="172.00" stroke="#000" stroke-width="0.75"/>
<line x1="424.50" y1="169.40" x2="424.50" y2="174.60" stroke="#000" stroke-width="0.75"/>
<line x1="502.50" y1="169.40" x2="502.50" y2="174.60" stroke="#000" stroke-width="0.75"/>
</svg>
</body></html>
